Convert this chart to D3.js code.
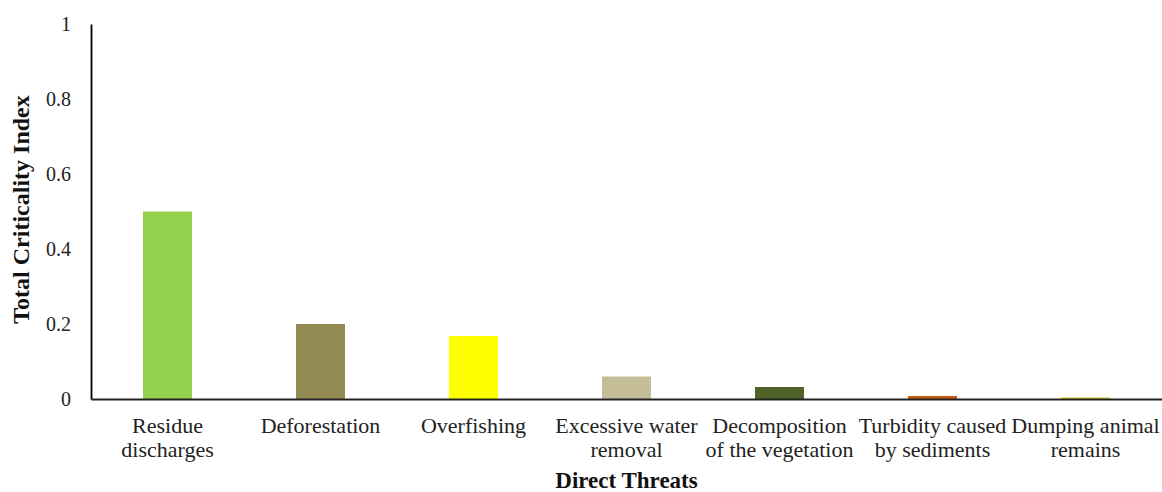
<!DOCTYPE html>
<html>
<head>
<meta charset="utf-8">
<script src="https://cdn.jsdelivr.net/npm/d3@7/dist/d3.min.js"></script>
<style>
  html, body { margin: 0; padding: 0; background: #fff; }
  svg { display: block; }
</style>
</head>
<body>
<svg id="chart" width="1162" height="492"></svg>
<script>
const categories = [
  ["Residue", "discharges"],
  ["Deforestation"],
  ["Overfishing"],
  ["Excessive water", "removal"],
  ["Decomposition", "of the vegetation"],
  ["Turbidity caused", "by sediments"],
  ["Dumping animal", "remains"]
];
const values = [0.5, 0.2, 0.168, 0.06, 0.032, 0.008, 0.004];
const colors = ["#92D050", "#948A54", "#FFFF00", "#C4BD97", "#4F6228", "#C55A11", "#DCC41C"];
const yTicks = [0, 0.2, 0.4, 0.6, 0.8, 1];
const yTickLabels = ["0", "0.2", "0.4", "0.6", "0.8", "1"];

const svg = d3.select("#chart");
const margin = { left: 91, right: 0, top: 24, bottom: 93 };
const W = 1162, H = 492;
const x0 = margin.left, x1 = W - margin.right;
const y0 = H - margin.bottom, y1 = margin.top;

const x = d3.scaleBand().domain(d3.range(categories.length)).range([x0, x1]).paddingInner(0.68).paddingOuter(0.34);
const y = d3.scaleLinear().domain([0, 1]).range([y0, y1]);

// bars
svg.append("g").selectAll("rect").data(values).join("rect")
  .attr("x", (d, i) => x(i))
  .attr("width", x.bandwidth())
  .attr("y", d => y(d))
  .attr("height", d => y(0) - y(d))
  .attr("fill", (d, i) => colors[i]);

// y axis
const yAxis = d3.axisLeft(y).tickValues(yTicks).tickSize(0).tickPadding(20)
  .tickFormat((d, i) => yTickLabels[i]);
const gy = svg.append("g").attr("transform", `translate(${x0},0)`).call(yAxis);
gy.select(".domain").attr("stroke", "#000").attr("stroke-width", 1.8);
gy.selectAll("text").attr("font-family", "'Liberation Serif', 'Times New Roman', serif")
  .attr("font-size", 20).attr("fill", "#222");

// x axis
const xAxis = d3.axisBottom(x).tickSize(0).tickFormat("");
const gx = svg.append("g").attr("transform", `translate(0,${y0})`).call(xAxis);
gx.select(".domain").attr("stroke", "#222").attr("stroke-width", 2.2);

// x labels
const lab = svg.append("g").selectAll("text").data(categories).join("text")
  .attr("x", (d, i) => x(i) + x.bandwidth() / 2)
  .attr("y", 433)
  .attr("text-anchor", "middle")
  .attr("font-family", "'Liberation Serif', 'Times New Roman', serif")
  .attr("font-size", 22)
  .attr("fill", "#222");
lab.selectAll("tspan").data(d => d).join("tspan")
  .attr("x", function () { return d3.select(this.parentNode).attr("x"); })
  .attr("dy", (d, i) => i === 0 ? 0 : 23.5)
  .text(d => d);

// axis titles
svg.append("text")
  .attr("x", (x0 + x1) / 2).attr("y", 488)
  .attr("text-anchor", "middle")
  .attr("font-family", "'Liberation Serif', 'Times New Roman', serif")
  .attr("font-weight", "bold").attr("font-size", 23).attr("fill", "#111")
  .text("Direct Threats");

svg.append("text")
  .attr("transform", `translate(29,${(y0 + y1) / 2 - 2}) rotate(-90)`)
  .attr("text-anchor", "middle")
  .attr("font-family", "'Liberation Serif', 'Times New Roman', serif")
  .attr("font-weight", "bold").attr("font-size", 24).attr("fill", "#111")
  .text("Total Criticality Index");
</script>
</body>
</html>
